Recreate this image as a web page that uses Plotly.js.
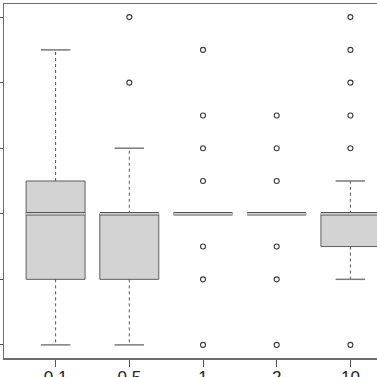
<!DOCTYPE html>
<html>
<head>
<meta charset="utf-8">
<script src="https://cdn.plot.ly/plotly-3.0.1.min.js"></script>
<style>
  html, body { margin: 0; padding: 0; overflow: hidden; background: #fff; }
  #chart { width: 420px; height: 377px; }
</style>
</head>
<body>
<div id="chart"></div>
<script>
// groups and box stats
var labels = ["0.1", "0.5", "1", "2", "10"];
var q1 = [1, 1, 2, 2, 1.5];
var med = [2, 2, 2, 2, 2];
var q3 = [2.5, 2, 2, 2, 2];
var lowW = [0, 0, 2, 2, 1];
var highW = [4.5, 3, 2, 2, 2.5];

// outliers for each group
var outliers = [
  [],
  [4, 5],
  [0, 1, 1.5, 2.5, 3, 3.5, 4.5],
  [0, 1, 1.5, 2.5, 3, 3.5],
  [0, 3, 3.5, 4, 4.5, 5]
];

var pos = labels.map(function (l, i) { return i + 1; });
var half = 0.4, capHalf = 0.2;

var data = [];

// boxes
pos.forEach(function (c, i) {
  data.push({
    x: [c - half, c + half, c + half, c - half, c - half],
    y: [q1[i], q1[i], q3[i], q3[i], q1[i]],
    mode: "lines", fill: "toself", fillcolor: "#d3d3d3",
    line: { color: "#5e5e5e", width: 1 },
    hoverinfo: "skip", showlegend: false
  });
});

// dashed whiskers
var wx = [], wy = [];
pos.forEach(function (c, i) {
  if (highW[i] > q3[i]) { wx.push(c, c, null); wy.push(q3[i], highW[i], null); }
  if (lowW[i] < q1[i]) { wx.push(c, c, null); wy.push(q1[i], lowW[i], null); }
});
data.push({ x: wx, y: wy, mode: "lines", line: { color: "#555", width: 1, dash: "3px,3px" }, showlegend: false });

// whisker caps
var cx = [], cy = [];
pos.forEach(function (c, i) {
  if (highW[i] > q3[i]) { cx.push(c - capHalf, c + capHalf, null); cy.push(highW[i], highW[i], null); }
  if (lowW[i] < q1[i]) { cx.push(c - capHalf, c + capHalf, null); cy.push(lowW[i], lowW[i], null); }
});
data.push({ x: cx, y: cy, mode: "lines", line: { color: "#7a7a7a", width: 1.5 }, showlegend: false });

// medians: dark thick line with light centre
var mx = [], my = [];
pos.forEach(function (c, i) {
  mx.push(c - half, c + half, null); my.push(med[i], med[i], null);
});
data.push({ x: mx, y: my, mode: "lines", line: { color: "#555", width: 3.5 }, showlegend: false });
data.push({ x: mx, y: my, mode: "lines", line: { color: "#fafafa", width: 1.2 }, showlegend: false });

// outlier points
var ox = [], oy = [];
outliers.forEach(function (arr, i) {
  arr.forEach(function (v) { ox.push(pos[i]); oy.push(v); });
});
data.push({
  x: ox, y: oy, mode: "markers",
  marker: { symbol: "circle-open", size: 5, color: "#3a3a3a", line: { width: 1.1 } },
  showlegend: false
});

var layout = {
  width: 420, height: 377,
  margin: { l: 4, r: 18, t: 4, b: 19 },
  paper_bgcolor: "#fff", plot_bgcolor: "#fff",
  font: { family: "Liberation Sans, Arial, sans-serif", color: "#222" },
  xaxis: {
    range: [0.3, 5.7], tickvals: pos, ticktext: labels,
    showgrid: false, zeroline: false,
    showline: true, mirror: true, linecolor: "#6e6e6e", linewidth: 1.5,
    ticks: "outside", ticklen: 7, tickcolor: "#555", tickwidth: 1,
    tickfont: { size: 17 }, ticklabelstandoff: -4
  },
  yaxis: {
    range: [-0.2, 5.2], tickvals: [0, 1, 2, 3, 4, 5],
    showgrid: false, zeroline: false,
    showline: true, mirror: true, linecolor: "#6e6e6e", linewidth: 1.5,
    ticks: "outside", ticklen: 7, tickcolor: "#555", tickwidth: 1,
    tickfont: { size: 17 }
  }
};

Plotly.newPlot("chart", data, layout, { staticPlot: true, displayModeBar: false });
</script>
</body>
</html>
